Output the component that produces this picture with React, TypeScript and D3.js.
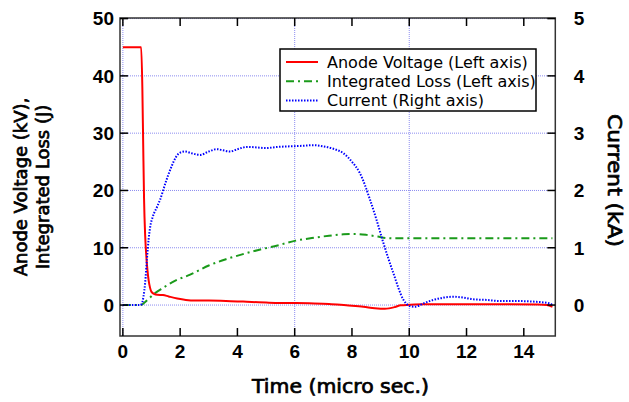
import React from "react";
import * as d3 from "d3";

// ---- Data ----
const voltageT = [0, 0.64, 0.68, 0.71, 0.74, 0.78, 0.82, 0.86, 0.9, 0.95, 1.0, 1.1, 1.2, 1.4, 1.6, 1.9, 2.2, 2.5, 3.0, 3.6, 4.2, 5.1, 6.0, 6.5, 7.2, 7.8, 8.4, 8.8, 9.15, 9.5, 9.7, 10.0, 10.5, 12, 13.5, 14.5, 14.8, 15.0];
const voltageV = [45, 45, 38, 28, 18.5, 12, 8.5, 6.0, 4.3, 3.0, 2.3, 1.9, 1.8, 1.75, 1.5, 1.15, 0.9, 0.78, 0.78, 0.72, 0.6, 0.42, 0.35, 0.3, 0.2, -0.05, -0.3, -0.55, -0.65, -0.35, -0.05, 0.05, 0.15, 0.15, 0.15, 0.1, 0.0, -0.3];

const lossT = [0, 0.62, 0.75, 0.9, 1.1, 1.4, 1.85, 2.35, 3.0, 3.6, 4.2, 4.8, 5.4, 6.0, 6.6, 7.2, 7.7, 8.1, 8.5, 8.9, 9.2, 9.6, 15];
const lossV = [0, 0, 0.4, 1.1, 2.0, 3.0, 4.3, 5.3, 6.9, 8.0, 8.9, 9.7, 10.4, 11.2, 11.7, 12.1, 12.35, 12.4, 12.25, 11.95, 11.7, 11.65, 11.65];

const currentT = [0, 0.6, 0.66, 0.72, 0.78, 0.84, 0.9, 0.95, 1.05, 1.2, 1.3, 1.5, 1.7, 1.85, 2.0, 2.17, 2.4, 2.7, 3.0, 3.28, 3.5, 3.75, 4.0, 4.33, 4.7, 5.0, 5.4, 5.84, 6.3, 6.65, 7.0, 7.4, 7.7, 8.0, 8.28, 8.63, 8.85, 9.1, 9.45, 9.8, 10.03, 10.2, 10.5, 10.84, 11.2, 11.54, 11.9, 12.24, 12.7, 13.17, 13.8, 14.33, 14.9, 15.0];
const currentV = [0, 0, 0.02, 0.15, 0.4, 0.8, 1.15, 1.35, 1.55, 1.72, 1.84, 2.15, 2.42, 2.58, 2.66, 2.68, 2.65, 2.62, 2.68, 2.72, 2.7, 2.68, 2.72, 2.76, 2.75, 2.74, 2.76, 2.77, 2.78, 2.79, 2.77, 2.72, 2.65, 2.5, 2.3, 1.84, 1.5, 1.08, 0.55, 0.09, -0.02, -0.03, 0.03, 0.09, 0.13, 0.145, 0.13, 0.1, 0.09, 0.07, 0.07, 0.06, 0.03, 0.0];

const xTicks = [0, 2, 4, 6, 8, 10, 12, 14];
const xGrid = [0, 6, 10];
const leftTicks = [0, 10, 20, 30, 40, 50];
const rightTicks = [0, 1, 2, 3, 4, 5];

const legendLabels = ["Anode Voltage (Left axis)", "Integrated Loss (Left axis)", "Current (Right axis)"];

// ---- Layout ----
const W = 629, H = 402;
const PL = 120, PR = 555.3, PT = 18, PB = 336;

export default function App() {
  const x = d3.scaleLinear().domain([-0.1, 15.1]).range([PL, PR]);
  const yL = d3.scaleLinear().domain([-5.4, 50.1]).range([PB, PT]);
  const yR = d3.scaleLinear().domain([-0.54, 5.01]).range([PB, PT]);

  const mk = (ts: number[], vs: number[], ys: d3.ScaleLinear<number, number>) =>
    d3.line<number>().x((_, i) => x(ts[i])).y((v) => ys(v)).curve(d3.curveMonotoneX)(vs) || "";

  const vPath = mk(voltageT, voltageV, yL);
  const lPath = mk(lossT, lossV, yL);
  const cPath = mk(currentT, currentV, yR);

  const gridStyle = { stroke: "#8c8cf0", strokeWidth: 1, strokeDasharray: "1,1" };
  const tickLen = 8;
  const numFont = "'Liberation Sans', Arial, sans-serif";
  const titleFont = "'DejaVu Sans', sans-serif";
  const titleProps = { fontFamily: titleFont, fill: "#000", stroke: "#000", strokeWidth: 0.7 };

  const styles = [
    { stroke: "#ff0000", strokeWidth: 2, dash: undefined as string | undefined },
    { stroke: "#1a9a1a", strokeWidth: 2, dash: "8,4,2,4" },
    { stroke: "#0000ff", strokeWidth: 2, dash: "1.5,1.5" },
  ];

  return (
    <svg width={W} height={H} style={{ position: "absolute", left: 0, top: 0, background: "#fff" }}>
      <rect x={0} y={0} width={W} height={H} fill="#fff" />
      <defs>
        <clipPath id="plotClip">
          <rect x={PL} y={PT} width={PR - PL} height={PB - PT} />
        </clipPath>
      </defs>
      {/* grid */}
      {leftTicks.map((t) => (
        <line key={"hg" + t} x1={PL} x2={PR} y1={yL(t)} y2={yL(t)} {...gridStyle} />
      ))}
      {xGrid.map((t) => (
        <line key={"vg" + t} x1={x(t)} x2={x(t)} y1={PT} y2={PB} {...gridStyle} />
      ))}

      {/* series */}
      <g clipPath="url(#plotClip)">
        <path d={lPath} fill="none" stroke={styles[1].stroke} strokeWidth={styles[1].strokeWidth} strokeDasharray={styles[1].dash} />
        <path d={vPath} fill="none" stroke={styles[0].stroke} strokeWidth={styles[0].strokeWidth} strokeLinejoin="round" />
        <path d={cPath} fill="none" stroke={styles[2].stroke} strokeWidth={styles[2].strokeWidth} strokeDasharray={styles[2].dash} />
      </g>

      {/* frame */}
      <rect x={PL} y={PT} width={PR - PL} height={PB - PT} fill="none" stroke="#333" strokeWidth={1.5} />

      {/* ticks */}
      {xTicks.map((t) => (
        <g key={"xt" + t}>
          <line x1={x(t)} x2={x(t)} y1={PB} y2={PB - tickLen} stroke="#000" strokeWidth={1.5} />
          <line x1={x(t)} x2={x(t)} y1={PT} y2={PT + tickLen} stroke="#000" strokeWidth={1.5} />
          <text x={x(t)} y={358} textAnchor="middle" fontFamily={numFont} fontWeight="bold" fontSize={19} fill="#000">
            {t}
          </text>
        </g>
      ))}
      {leftTicks.map((t) => (
        <g key={"lt" + t}>
          <line x1={PL} x2={PL + tickLen} y1={yL(t)} y2={yL(t)} stroke="#000" strokeWidth={1.5} />
          <text x={114} y={yL(t)} dy="0.36em" textAnchor="end" fontFamily={numFont} fontWeight="bold" fontSize={19} fill="#000">
            {t}
          </text>
        </g>
      ))}
      {rightTicks.map((t) => (
        <g key={"rt" + t}>
          <line x1={PR} x2={PR - tickLen} y1={yR(t)} y2={yR(t)} stroke="#000" strokeWidth={1.5} />
          <text x={579} y={yR(t)} dy="0.36em" textAnchor="middle" fontFamily={numFont} fontWeight="bold" fontSize={19} fill="#000">
            {t}
          </text>
        </g>
      ))}

      {/* axis titles */}
      <text x={340.5} y={393} textAnchor="middle" fontSize={19} textLength={177} lengthAdjust="spacingAndGlyphs" {...titleProps}>
        Time (micro sec.)
      </text>
      <g transform="translate(27,187) rotate(-90)">
        <text x={0} y={0} textAnchor="middle" fontSize={18} {...titleProps}>
          Anode Voltage (kV),
        </text>
        <text x={0} y={22} textAnchor="middle" fontSize={18} {...titleProps}>
          Integrated Loss (J)
        </text>
      </g>
      <g transform="translate(608,180.5) rotate(90)">
        <text x={0} y={0} textAnchor="middle" fontSize={19.5} textLength={133} lengthAdjust="spacingAndGlyphs" {...titleProps}>
          Current (kA)
        </text>
      </g>

      {/* legend */}
      <rect x={280} y={49} width={256} height={62} fill="#fff" stroke="#000" strokeWidth={1.5} />
      {legendLabels.map((lab, i) => {
        const yy = 62 + i * 19.3;
        const s = styles[i];
        return (
          <g key={lab}>
            <line x1={286} x2={318} y1={yy} y2={yy} stroke={s.stroke} strokeWidth={s.strokeWidth} strokeDasharray={s.dash} />
            <text x={327} y={yy + 5.5} fontFamily={titleFont} fontSize={16} fill="#000">
              {lab}
            </text>
          </g>
        );
      })}
    </svg>
  );
}
